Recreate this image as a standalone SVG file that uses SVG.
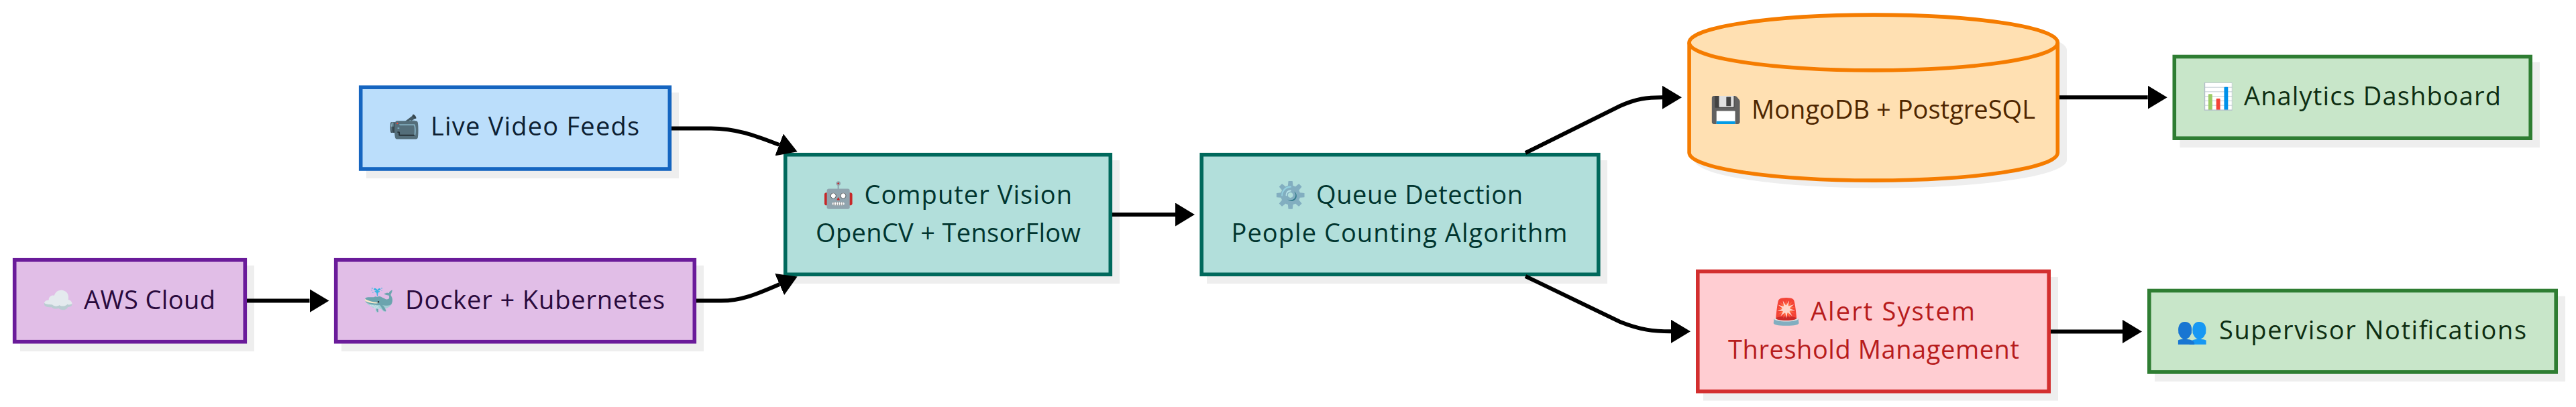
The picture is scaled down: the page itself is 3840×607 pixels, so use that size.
<svg xmlns="http://www.w3.org/2000/svg" width="3840" height="607" viewBox="0 0 3840 607">
<style>
text{font-family:"Open Sans","Noto Color Emoji",sans-serif;font-size:38px}
.s{fill:#eee}
.b{stroke-width:5.6}
.blue{fill:#bbdefb;stroke:#1565c0}.tb{fill:#0d1f33}
.pur{fill:#e1bee7;stroke:#6a1b9a}.tp{fill:#2a0a3d}
.tea{fill:#b2dfdb;stroke:#00695c}.tt{fill:#00352f}
.org{fill:#ffe0b2;stroke:#f57c00}.to{fill:#4e2600}
.red{fill:#ffcdd2;stroke:#d32f2f}.tr{fill:#b71c1c}
.grn{fill:#c8e6c9;stroke:#2e7d32}.tg{fill:#0e2e12}
.c{fill:none;stroke:#000;stroke-width:6;marker-end:url(#a)}
</style>
<defs>
<marker id="a" markerUnits="userSpaceOnUse" markerWidth="29" markerHeight="35" refX="0" refY="17.5" orient="auto"><path d="M0,0L29,17.5L0,35Z" fill="#000"/></marker>
</defs>
<g id="live"><rect class="s" x="546" y="138" width="466" height="128"/><rect class="b blue" x="537.7" y="130.2" width="460.6" height="121.8"/><text class="tb" y="202.3"><tspan x="579.5">📹</tspan> <tspan x="642" textLength="311" lengthAdjust="spacing">Live Video Feeds</tspan></text></g>
<g id="aws"><rect class="s" x="30" y="396" width="349" height="128"/><rect class="b pur" x="21.7" y="387.7" width="343.6" height="122"/><text class="tp" y="460.7"><tspan x="63.5">☁️</tspan> <tspan x="125" textLength="196" lengthAdjust="spacing">AWS Cloud</tspan></text></g>
<g id="docker"><rect class="s" x="509" y="396" width="540" height="128"/><rect class="b pur" x="500.7" y="387.7" width="534.6" height="122"/><text class="tp" y="460.7"><tspan x="541.5">🐳</tspan> <tspan x="604" textLength="387" lengthAdjust="spacing">Docker + Kubernetes</tspan></text></g>
<g id="cv"><rect class="s" x="1179" y="239" width="490" height="184"/><rect class="b tea" x="1170.7" y="230.7" width="484.6" height="178.6"/><text class="tt" y="303.5"><tspan x="1226.5">🤖</tspan> <tspan x="1288.5" textLength="309.5" lengthAdjust="spacing">Computer Vision</tspan></text><text class="tt" x="1216" y="360.7" textLength="395" lengthAdjust="spacing">OpenCV + TensorFlow</text></g>
<g id="queue"><rect class="s" x="1799" y="239" width="597" height="184"/><rect class="b tea" x="1791.2" y="230.7" width="591.6" height="178.6"/><text class="tt" y="303.5"><tspan x="1900.5">⚙️</tspan> <tspan x="1962" textLength="308" lengthAdjust="spacing">Queue Detection</tspan></text><text class="tt" x="1835.5" y="360.7" textLength="501" lengthAdjust="spacing">People Counting Algorithm</text></g>
<g id="db"><path class="s" d="M2526,74.5A274.6,41.4 0 0 1 3081,74.5V238.7A274.6,41.4 0 0 1 2526,238.7Z"/><path class="b org" d="M2518.1,63.5A274.6,41.4 0 0 1 3067.3,63.5V227.7A274.6,41.4 0 0 1 2518.1,227.7Z"/><path class="b org" style="fill:none" d="M2518.1,63.5A274.6,41.4 0 0 0 3067.3,63.5"/><text class="to" y="176.8"><tspan x="2549.5">💾</tspan> <tspan x="2611" textLength="423" lengthAdjust="spacing">MongoDB + PostgreSQL</tspan></text></g>
<g id="dash"><rect class="s" x="3249.5" y="92.7" width="536.5" height="127.3"/><rect class="b grn" x="3241.3" y="84.5" width="530.9" height="121.7"/><text class="tg" y="156.6"><tspan x="3283.5">📊</tspan> <tspan x="3345" textLength="383" lengthAdjust="spacing">Analytics Dashboard</tspan></text></g>
<g id="alert"><rect class="s" x="2539" y="413" width="529" height="184.6"/><rect class="b red" x="2530.8" y="404.7" width="523.4" height="179"/><text class="tr" y="478.3"><tspan x="2639.5">🚨</tspan> <tspan x="2699" textLength="245" lengthAdjust="spacing">Alert System</tspan></text><text class="tr" x="2576" y="534.5" textLength="434" lengthAdjust="spacing">Threshold Management</text></g>
<g id="sup"><rect class="s" x="3212" y="441.7" width="612" height="127.3"/><rect class="b grn" x="3203.8" y="433.5" width="606.4" height="121.4"/><text class="tg" y="506"><tspan x="3244.5">👥</tspan> <tspan x="3308" textLength="458" lengthAdjust="spacing">Supervisor Notifications</tspan></text></g>
<g id="connectors">
<path class="c" d="M1001,191.5L1060,191.5C1100,191.5 1130,204 1161.5,216"/>
<path class="c" d="M368,448.6L461.5,448.6"/>
<path class="c" d="M1038,448.6L1075,448.6C1105,448.6 1130,438 1162,424"/>
<path class="c" d="M1658,320L1752,320"/>
<path class="c" d="M2274,228L2415,158C2440,147 2455,145.3 2478,145.3"/>
<path class="c" d="M2274,412L2415,480C2445,492 2465,494.3 2491,494.3"/>
<path class="c" d="M3070,145.2L3201.7,145.2"/>
<path class="c" d="M3057,494.4L3164,494.4"/>
</g>
</svg>
